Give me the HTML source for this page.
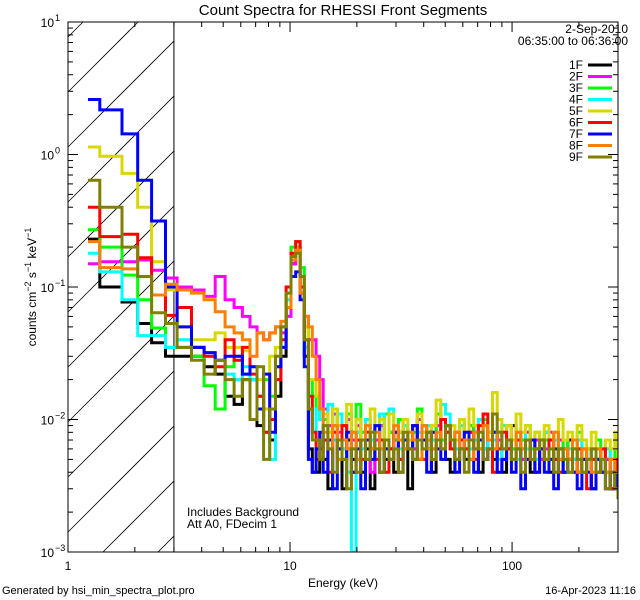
<!DOCTYPE html>
<html><head><meta charset="utf-8">
<style>
html,body{margin:0;padding:0;background:#fff;width:640px;height:600px;overflow:hidden;}
svg{display:block;font-family:"Liberation Sans",sans-serif;}
</style></head>
<body>
<svg id="chart" width="640" height="600" viewBox="0 0 640 600" xmlns="http://www.w3.org/2000/svg">
<rect width="640" height="600" fill="#fff"/>
<text x="343" y="15" font-size="15" text-anchor="middle">Count Spectra for RHESSI Front Segments</text>
<defs><clipPath id="plotclip"><rect x="68" y="22" width="550" height="530"/></clipPath></defs>
<g id="hatch"></g>
<g id="series" clip-path="url(#plotclip)"></g>
<g id="axes"></g>
<g id="legend"></g>
<text x="187" y="516" font-size="12">Includes Background</text>
<text x="187" y="528" font-size="12">Att A0, FDecim 1</text>
<text x="343" y="587" font-size="12" text-anchor="middle">Energy (keV)</text>
<text transform="translate(36,287) rotate(-90)" font-size="12" text-anchor="middle">counts cm<tspan dy="-5" font-size="9">−2</tspan><tspan dy="5"> s</tspan><tspan dy="-5" font-size="9">−1</tspan><tspan dy="5"> keV</tspan><tspan dy="-5" font-size="9">−1</tspan></text>
<text x="2" y="594" font-size="11">Generated by hsi_min_spectra_plot.pro</text>
<text x="636" y="594" font-size="11" text-anchor="end">16-Apr-2023 11:16</text>
</svg>
<script>
const NS="http://www.w3.org/2000/svg";
// energy bin edges (keV)
const lowEdges=[1.23,1.39,1.75,2.06,2.38,2.75,3.1];
const midStep=0.5, midCount=22;
const highRatio=1.05, highCount=64;
const segLabels=["1F","2F","3F","4F","5F","6F","7F","8F","9F"];
const segColors=["#000000","#ff00ff","#00ff00","#00ffff","#d8d800","#ff0000","#0000ff","#ff8000","#808000"];
const s1F=[0.23,0.1,0.077,0.053,0.038,0.03, 0.03,0.03,0.025,0.022,0.015,0.013,0.02,0.02,0.009,0.012,0.007,0.015,0.03,0.07,0.15,0.2,0.09,0.03,0.006,0.004,0.004,0.005,
.005,.003,.009,.006,.003,.007,.005,.008,.004,.006,.003,.007,.009,.005,.006,.004,.008,.006,.003,.007,.005,.009,.006,.004,.011,.007,.005,.004,.008,.006,.005,.009,.007,.004,.006,.008,.005,.007,.004,.006,.009,.006,.005,.007,.004,.006,.005,.008,.004,.006,.005,.004,.007,.005,.004,.006,.005,.003,.005,.004,.005,.003,.004,.003];
const s2F=[0.15,0.155,0.155,0.16,0.134,0.117, 0.1,0.095,0.085,0.12,0.08,0.07,0.06,0.05,0.045,0.04,0.045,0.05,0.045,0.06,0.15,0.19,0.12,0.06,0.04,0.04,0.03,0.02,
.012,.009,.011,.008,.006,.01,.007,.009,.008,.005,.004,.007,.009,.006,.008,.007,.005,.009,.007,.006,.01,.008,.006,.007,.009,.006,.008,.007,.005,.009,.006,.008,.007,.006,.005,.008,.006,.007,.005,.009,.006,.007,.005,.008,.006,.007,.005,.006,.008,.005,.007,.006,.005,.007,.006,.004,.006,.005,.004,.006,.005,.004,.005,.004];
const s3F=[0.27,0.2,0.123,0.08,0.049,0.035, 0.035,0.03,0.018,0.012,0.025,0.03,0.022,0.02,0.015,0.02,0.015,0.025,0.05,0.08,0.2,0.22,0.14,0.05,0.02,0.015,0.012,0.01,
.01,.008,.012,.007,.009,.011,.006,.013,.008,.01,.007,.009,.006,.011,.008,.007,.01,.009,.006,.008,.012,.009,.007,.008,.011,.007,.009,.006,.008,.01,.007,.009,.008,.006,.01,.007,.008,.006,.009,.007,.006,.008,.007,.009,.006,.008,.006,.007,.005,.008,.006,.007,.005,.006,.008,.005,.006,.005,.007,.004,.006,.005,.007,.004];
const s4F=[0.18,0.13,0.08,0.043,0.043,0.035, 0.04,0.035,0.03,0.028,0.022,0.02,0.025,0.02,0.015,0.008,0.005,0.02,0.035,0.08,0.17,0.19,0.1,0.035,0.012,0.008,0.012,0.01,
.009,.013,.007,.011,.006,.004,.001,.008,.006,.01,.007,.009,.011,.006,.012,.008,.006,.009,.007,.005,.008,.006,.009,.007,.008,.013,.011,.007,.006,.009,.008,.006,.007,.01,.006,.008,.007,.005,.009,.006,.007,.005,.008,.006,.007,.005,.006,.008,.005,.007,.006,.004,.006,.005,.007,.005,.004,.006,.005,.004,.006,.005,.004,.005];
const s5F=[1.14,0.97,0.72,0.40,0.155,0.095, 0.05,0.04,0.04,0.045,0.035,0.035,0.033,0.025,0.02,0.012,0.03,0.035,0.05,0.09,0.17,0.2,0.12,0.05,0.02,0.02,0.015,0.012,
.011,.008,.012,.009,.007,.013,.008,.01,.007,.009,.012,.008,.01,.007,.011,.009,.008,.01,.007,.009,.011,.008,.006,.009,.014,.01,.008,.009,.007,.01,.008,.012,.009,.007,.009,.008,.016,.01,.008,.009,.007,.011,.008,.009,.007,.008,.006,.009,.007,.008,.01,.007,.008,.006,.009,.007,.006,.008,.006,.005,.007,.006,.008,.005];
const s6F=[0.40,0.24,0.25,0.166,0.087,0.061, 0.07,0.035,0.03,0.025,0.04,0.028,0.035,0.022,0.015,0.008,0.01,0.02,0.04,0.1,0.18,0.22,0.1,0.04,0.015,0.008,0.005,0.006,
.007,.004,.008,.005,.009,.006,.004,.007,.005,.008,.006,.005,.007,.004,.006,.008,.005,.007,.006,.009,.007,.005,.008,.006,.007,.01,.008,.006,.005,.007,.006,.008,.005,.009,.011,.007,.004,.006,.008,.006,.005,.007,.006,.005,.007,.004,.006,.005,.007,.005,.004,.006,.005,.004,.006,.005,.003,.005,.004,.006,.004,.003,.005,.004];
const s7F=[2.6,2.17,1.43,0.64,0.315,0.1, 0.05,0.035,0.032,0.028,0.03,0.03,0.022,0.025,0.012,0.022,0.008,0.025,0.035,0.07,0.12,0.13,0.08,0.025,0.005,0.004,0.006,0.008,
.004,.007,.003,.006,.005,.008,.004,.006,.003,.007,.005,.009,.004,.006,.005,.008,.004,.007,.006,.009,.005,.007,.004,.008,.006,.005,.009,.007,.004,.006,.008,.005,.004,.007,.005,.006,.008,.004,.005,.007,.004,.006,.003,.005,.007,.004,.006,.004,.005,.003,.006,.004,.005,.004,.003,.005,.004,.003,.005,.004,.003,.004,.003,.004];
const s8F=[0.22,0.14,0.137,0.12,0.087,0.105, 0.095,0.09,0.08,0.065,0.05,0.045,0.04,0.03,0.045,0.04,0.045,0.05,0.055,0.07,0.16,0.19,0.09,0.06,0.05,0.03,0.02,0.012,
.008,.006,.009,.005,.007,.006,.008,.005,.007,.009,.006,.008,.006,.007,.005,.009,.007,.006,.008,.007,.005,.009,.007,.006,.008,.006,.009,.007,.008,.006,.007,.005,.008,.006,.009,.007,.006,.008,.006,.007,.005,.008,.006,.007,.005,.006,.007,.005,.006,.008,.005,.006,.005,.007,.004,.006,.005,.004,.006,.005,.004,.005,.004,.004];
const s9F=[0.64,0.40,0.2,0.12,0.064,0.053, 0.035,0.028,0.022,0.028,0.02,0.015,0.02,0.01,0.025,0.005,0.012,0.03,0.05,0.09,0.17,0.18,0.12,0.04,0.012,0.007,0.007,0.005,
.009,.006,.004,.007,.005,.003,.006,.004,.007,.005,.008,.006,.004,.007,.005,.006,.004,.008,.006,.005,.007,.006,.008,.005,.007,.006,.009,.007,.005,.006,.004,.007,.006,.008,.005,.006,.011,.008,.006,.007,.005,.006,.004,.007,.005,.006,.007,.005,.006,.004,.006,.005,.004,.006,.005,.004,.005,.006,.004,.005,.003,.004,.003,.0025];
const allSeries=[s1F,s2F,s3F,s4F,s5F,s6F,s7F,s8F,s9F];
const xTickVals=[1,10,100];
const xTickLabels=["1","10","100"];
const yTickExps=[1,0,-1,-2,-3];

const X0=68,X1=618,Y0=22,Y1=552;
const xMin=1,xMax=300,yMin=1e-3,yMax=10;
const xs=v=>X0+(Math.log10(v)-Math.log10(xMin))/(Math.log10(xMax)-Math.log10(xMin))*(X1-X0);
const ys=v=>Y1-(Math.log10(v)-Math.log10(yMin))/(Math.log10(yMax)-Math.log10(yMin))*(Y1-Y0);

const edges=lowEdges.slice();
for(let i=1;i<=midCount;i++)edges.push(3.1+i*midStep);
let last=edges[edges.length-1];
for(let i=1;i<=highCount;i++){last=last*highRatio;edges.push(last);}

function mk(tag,attrs,parent){const e=document.createElementNS(NS,tag);for(const k in attrs)e.setAttribute(k,attrs[k]);parent.appendChild(e);return e;}

// hatch (lines y = b - (x - X0), clipped analytically)
const hatch=document.getElementById('hatch');
const xh=xs(3.0);
for(let b=Y1+200;b>Y0;b-=55){
  const xa=Math.max(X0,X0+b-Y1), xb=Math.min(xh,X0+b-Y0);
  if(xa>=xb)continue;
  const l=mk('line',{x1:xa,y1:b-(xa-X0),x2:xb,y2:b-(xb-X0),stroke:'#000','stroke-width':0.8},hatch);
  
  
}
const vl=mk('line',{x1:xh,y1:Y0,x2:xh,y2:Y1,stroke:'#000','stroke-width':1},hatch);



// series
const sg=document.getElementById('series');
allSeries.forEach((vals,si)=>{
  let pts=[];
  for(let i=0;i<vals.length&&i+1<edges.length;i++){
    const y=Math.min(Y1,ys(vals[i]));
    pts.push(Math.min(X1,xs(edges[i])).toFixed(1)+','+y.toFixed(1));
    pts.push(Math.min(X1,xs(edges[i+1])).toFixed(1)+','+y.toFixed(1));
  }
  const p=mk('polyline',{points:pts.join(' '),fill:'none',stroke:segColors[si],'stroke-width':3,'stroke-linejoin':'miter'},sg);
  
  
});

// axes
const ax=document.getElementById('axes');
const frame=mk('rect',{x:X0,y:Y0,width:X1-X0,height:Y1-Y0,fill:'none',stroke:'#000','stroke-width':1},ax);


for(let d=0;d<3;d++){
  for(let m=1;m<10;m++){
    const v=Math.pow(10,d)*m; if(v>xMax)break;
    const x=xs(v),L=m===1?10:5;
    mk('line',{x1:x,y1:Y1,x2:x,y2:Y1-L,stroke:'#000'},ax);
    mk('line',{x1:x,y1:Y0,x2:x,y2:Y0+L,stroke:'#000'},ax);
  }
}
xTickVals.forEach((v,i)=>{
  const t=mk('text',{x:xs(v),y:570,'font-size':12,'text-anchor':'middle'},ax);
  t.textContent=xTickLabels[i];
  
  
});
for(let e=-3;e<1;e++){
  for(let m=1;m<10;m++){
    const v=Math.pow(10,e)*m, y=ys(v), L=m===1?10:5;
    mk('line',{x1:X0,y1:y,x2:X0+L,y2:y,stroke:'#000'},ax);
    mk('line',{x1:X1,y1:y,x2:X1-L,y2:y,stroke:'#000'},ax);
  }
}
yTickExps.forEach(e=>{
  const y=ys(Math.pow(10,e));
  const t=mk('text',{x:54,y:y+5,'font-size':12,'text-anchor':'end'},ax);
  t.textContent='10';
  
  
  const s=mk('text',{x:55,y:y-1,'font-size':9},ax);
  s.textContent=String(e).replace('-','−');
  
  
});

// legend
const lg=document.getElementById('legend');
const d1=mk('text',{x:628,y:33,'font-size':12,'text-anchor':'end'},lg);d1.textContent='2-Sep-2010';


const d2=mk('text',{x:628,y:45,'font-size':12,'text-anchor':'end'},lg);d2.textContent='06:35:00 to 06:36:00';


segLabels.forEach((lab,i)=>{
  const y=65+i*11.5;
  const t=mk('text',{x:583,y:y+4,'font-size':12,'text-anchor':'end'},lg);t.textContent=lab;
  
  
  const l=mk('line',{x1:588,y1:y,x2:612,y2:y,stroke:segColors[i],'stroke-width':3},lg);
  
  
});
</script>
</body></html>
